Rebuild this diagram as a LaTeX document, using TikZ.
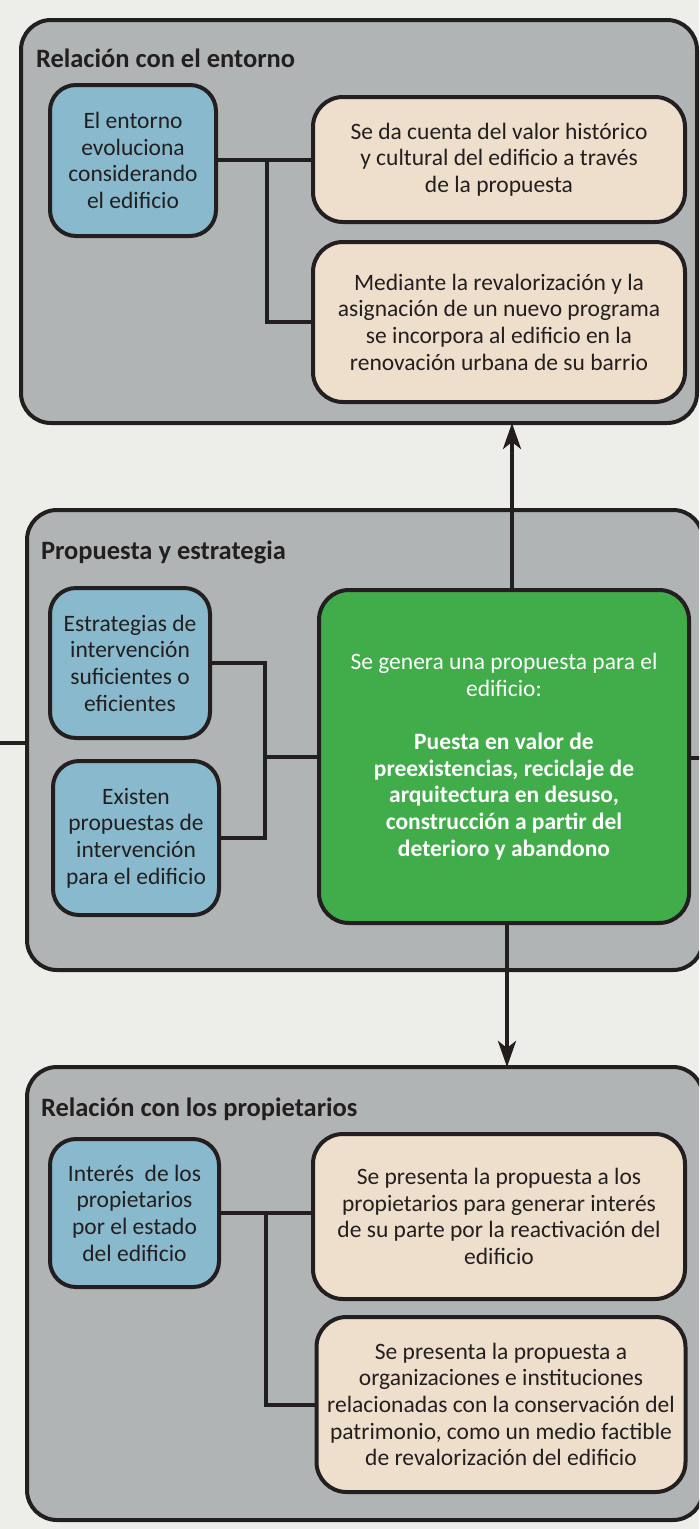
\documentclass[tikz,border=0pt]{standalone}
\usepackage{fontspec}
\setmainfont{Carlito}
\usetikzlibrary{arrows.meta,calc}
\definecolor{bg}{HTML}{EDEDE9}
\definecolor{panelgray}{HTML}{B1B4B5}
\definecolor{bluebox}{HTML}{88B9CC}
\definecolor{beige}{HTML}{EDDFCB}
\definecolor{greenbox}{HTML}{40AD4A}
\definecolor{ink}{HTML}{231F20}
\begin{document}
\begin{tikzpicture}[x=1pt,y=-1pt,
  every node/.style={inner sep=0pt, outer sep=0pt},
  panel/.style={draw=ink, fill=panelgray, line width=4pt, rounded corners=30pt},
  ptitle/.style={anchor=west, font=\fontsize{26.5}{30}\selectfont\bfseries, text=ink},
  boxtext/.style={align=center, font=\fontsize{23.5}{26.7}\selectfont},
  bluebx/.style={draw=ink, fill=bluebox, line width=4pt, rounded corners=26pt, boxtext, text=ink},
  beigebx/.style={draw=ink, fill=beige, line width=4pt, rounded corners=30pt, boxtext, text=ink},
  greenbx/.style={draw=ink, fill=greenbox, line width=4pt, rounded corners=30pt, boxtext, text=white},
  conn/.style={draw=ink, line width=4pt},
  arr/.style={draw=ink, line width=4pt, -{Stealth[length=26pt,width=18pt,inset=7pt]}}
]
\fill[bg] (0,0) rectangle (699,1529);
\useasboundingbox (0,0) rectangle (699,1529);
\clip (0,0) rectangle (699,1529);

% panels
\node[panel, minimum width=676, minimum height=403] (p1) at (359,221.5) {};
\node[panel, minimum width=676, minimum height=460] (p2) at (365,740) {};
\node[panel, minimum width=676, minimum height=453] (p3) at (365,1293.5) {};

\node[ptitle] (h1) at (36,58) {Relación con el entorno};
\node[ptitle] (h2) at (41,552) {Propuesta y estrategia};
\node[ptitle] (h3) at (41,1109) {Relación con los propietarios};

% panel 1
\node[bluebx, minimum width=166, minimum height=151] (b1) at (133,160.5)
  {El entorno\\evoluciona\\considerando\\el edificio};
\node[beigebx, minimum width=372, minimum height=125] (t1) at (499,159.5)
  {Se da cuenta del valor histórico\\y cultural del edificio a través\\de la propuesta};
\node[beigebx, minimum width=372, minimum height=160] (t2) at (499,322)
  {Mediante la revalorización y la\\asignación de un nuevo programa\\se incorpora al edificio en la\\renovación urbana de su barrio};

% panel 2
\node[bluebx, minimum width=160, minimum height=150] (b2a) at (130,663)
  {Estrategias de\\intervención\\suficientes o\\eficientes};
\node[bluebx, minimum width=166, minimum height=154] (b2b) at (136,838)
  {Existen\\propuestas de\\intervención\\para el edificio};
\node[greenbx, minimum width=370, minimum height=333] (g) at (504,756.5)
  {Se genera una propuesta para el\\edificio:\\[26.7pt]\bfseries Puesta en valor de\\\bfseries preexistencias, reciclaje de\\\bfseries arquitectura en desuso,\\\bfseries construcción a partir del\\\bfseries deterioro y abandono};

% panel 3
\node[bluebx, minimum width=169, minimum height=148] (b3) at (134.5,1213)
  {Interés \ de los\\propietarios\\por el estado\\del edificio};
\node[beigebx, minimum width=372, minimum height=165] (t3a) at (499,1216.5)
  {Se presenta la propuesta a los\\propietarios para generar interés\\de su parte por la reactivación del\\edificio};
\node[beigebx, minimum width=369, minimum height=175] (t3b) at (501,1404.5)
  {Se presenta la propuesta a\\organizaciones e instituciones\\relacionadas con la conservación del\\patrimonio, como un medio factible\\de revalorización del edificio};

% connectors panel 1
\coordinate (j1) at (267,160);
\draw[conn] (b1.east |- j1) -- (t1.west |- j1);
\draw[conn] (j1) |- (t2.west);

% connectors panel 2
\coordinate (j2) at (265,757);
\draw[conn] (b2a.east) -| (j2) |- (b2b.east);
\draw[conn] (j2) -- (g.west |- j2);
\coordinate (Lend) at (0,743);
\draw[conn] (Lend) -- (Lend -| p2.west);
\coordinate (Rend) at (705,758);
\draw[conn] (g.east |- Rend) -- (Rend);

% connectors panel 3
\coordinate (j3) at (266,1213);
\draw[conn] (b3.east |- j3) -- (t3a.west |- j3);
\draw[conn] (j3) |- (t3b.west);

% arrows
\coordinate (a1) at (512,0);
\draw[arr] (a1 |- g.north) -- (a1 |- p1.south);
\coordinate (a2) at (507,0);
\draw[arr] (a2 |- g.south) -- (a2 |- p3.north);
\end{tikzpicture}
\end{document}
